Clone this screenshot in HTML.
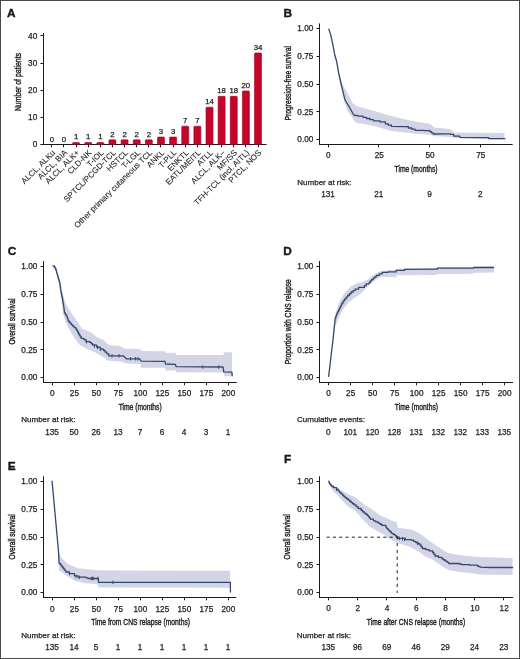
<!DOCTYPE html>
<html><head><meta charset="utf-8"><style>
html,body{margin:0;padding:0;background:#fff;}
svg{display:block;will-change:transform;}
text{font-family:"Liberation Sans",sans-serif;fill:#1e1e1e;stroke:#1e1e1e;stroke-width:0.25px;}
</style></head><body>
<svg width="520" height="659" viewBox="0 0 520 659">
<rect x="0" y="0" width="520" height="659" fill="#fff"/>
<text x="7.10" y="16.60" font-size="11.8" text-anchor="start" font-weight="bold" fill="#000" style="stroke:#000;stroke-width:0.35px">A</text>
<line x1="43.50" y1="33.00" x2="43.50" y2="145.00" stroke="#1a1a1a" stroke-width="1.0"/>
<line x1="40.40" y1="144.50" x2="43.50" y2="144.50" stroke="#1a1a1a" stroke-width="1.0"/>
<text x="37.20" y="147.44" font-size="8.2" text-anchor="end">0</text>
<line x1="40.40" y1="117.50" x2="43.50" y2="117.50" stroke="#1a1a1a" stroke-width="1.0"/>
<text x="37.20" y="120.29" font-size="8.2" text-anchor="end">10</text>
<line x1="40.40" y1="90.50" x2="43.50" y2="90.50" stroke="#1a1a1a" stroke-width="1.0"/>
<text x="37.20" y="93.14" font-size="8.2" text-anchor="end">20</text>
<line x1="40.40" y1="63.50" x2="43.50" y2="63.50" stroke="#1a1a1a" stroke-width="1.0"/>
<text x="37.20" y="65.99" font-size="8.2" text-anchor="end">30</text>
<line x1="40.40" y1="35.50" x2="43.50" y2="35.50" stroke="#1a1a1a" stroke-width="1.0"/>
<text x="37.20" y="38.84" font-size="8.2" text-anchor="end">40</text>
<line x1="43.00" y1="144.50" x2="266.50" y2="144.50" stroke="#1a1a1a" stroke-width="1.0"/>
<line x1="51.50" y1="144.50" x2="51.50" y2="147.30" stroke="#1a1a1a" stroke-width="1.0"/>
<text x="51.80" y="142.10" font-size="7.8" text-anchor="middle">0</text>
<text x="55.70" y="153.20" font-size="8.1" text-anchor="end" transform="rotate(-45 55.70 153.20)" style="stroke-width:0.1px">ALCL, ALKu</text>
<line x1="63.50" y1="144.50" x2="63.50" y2="147.30" stroke="#1a1a1a" stroke-width="1.0"/>
<text x="63.93" y="142.10" font-size="7.8" text-anchor="middle">0</text>
<text x="67.83" y="153.20" font-size="8.1" text-anchor="end" transform="rotate(-45 67.83 153.20)" style="stroke-width:0.1px">ALCL, BIA</text>
<rect x="72.56" y="142.48" width="7.00" height="2.01" rx="0.8" fill="#c5062c" stroke="#a0001f" stroke-width="0.6"/>
<line x1="76.50" y1="144.50" x2="76.50" y2="147.30" stroke="#1a1a1a" stroke-width="1.0"/>
<text x="76.06" y="139.38" font-size="7.8" text-anchor="middle">1</text>
<text x="79.96" y="153.20" font-size="8.1" text-anchor="end" transform="rotate(-45 79.96 153.20)" style="stroke-width:0.1px">ALCL, ALK+</text>
<rect x="84.69" y="142.48" width="7.00" height="2.01" rx="0.8" fill="#c5062c" stroke="#a0001f" stroke-width="0.6"/>
<line x1="88.50" y1="144.50" x2="88.50" y2="147.30" stroke="#1a1a1a" stroke-width="1.0"/>
<text x="88.19" y="139.38" font-size="7.8" text-anchor="middle">1</text>
<text x="92.09" y="153.20" font-size="8.1" text-anchor="end" transform="rotate(-45 92.09 153.20)" style="stroke-width:0.1px">CLD-NK</text>
<rect x="96.82" y="142.48" width="7.00" height="2.01" rx="0.8" fill="#c5062c" stroke="#a0001f" stroke-width="0.6"/>
<line x1="100.50" y1="144.50" x2="100.50" y2="147.30" stroke="#1a1a1a" stroke-width="1.0"/>
<text x="100.32" y="139.38" font-size="7.8" text-anchor="middle">1</text>
<text x="104.22" y="153.20" font-size="8.1" text-anchor="end" transform="rotate(-45 104.22 153.20)" style="stroke-width:0.1px">T-IOL</text>
<rect x="108.95" y="139.77" width="7.00" height="4.73" rx="0.8" fill="#c5062c" stroke="#a0001f" stroke-width="0.6"/>
<line x1="112.50" y1="144.50" x2="112.50" y2="147.30" stroke="#1a1a1a" stroke-width="1.0"/>
<text x="112.45" y="136.67" font-size="7.8" text-anchor="middle">2</text>
<text x="116.35" y="153.20" font-size="8.1" text-anchor="end" transform="rotate(-45 116.35 153.20)" style="stroke-width:0.1px">SPTCL/PCGD-TCL</text>
<rect x="121.08" y="139.77" width="7.00" height="4.73" rx="0.8" fill="#c5062c" stroke="#a0001f" stroke-width="0.6"/>
<line x1="124.50" y1="144.50" x2="124.50" y2="147.30" stroke="#1a1a1a" stroke-width="1.0"/>
<text x="124.58" y="136.67" font-size="7.8" text-anchor="middle">2</text>
<text x="128.48" y="153.20" font-size="8.1" text-anchor="end" transform="rotate(-45 128.48 153.20)" style="stroke-width:0.1px">HSTCL</text>
<rect x="133.21" y="139.77" width="7.00" height="4.73" rx="0.8" fill="#c5062c" stroke="#a0001f" stroke-width="0.6"/>
<line x1="136.50" y1="144.50" x2="136.50" y2="147.30" stroke="#1a1a1a" stroke-width="1.0"/>
<text x="136.71" y="136.67" font-size="7.8" text-anchor="middle">2</text>
<text x="140.61" y="153.20" font-size="8.1" text-anchor="end" transform="rotate(-45 140.61 153.20)" style="stroke-width:0.1px">T-LGL</text>
<rect x="145.34" y="139.77" width="7.00" height="4.73" rx="0.8" fill="#c5062c" stroke="#a0001f" stroke-width="0.6"/>
<line x1="148.50" y1="144.50" x2="148.50" y2="147.30" stroke="#1a1a1a" stroke-width="1.0"/>
<text x="148.84" y="136.67" font-size="7.8" text-anchor="middle">2</text>
<text x="152.74" y="153.20" font-size="8.1" text-anchor="end" transform="rotate(-45 152.74 153.20)" style="stroke-width:0.1px">Other primary cutaneous TCL</text>
<rect x="157.47" y="137.05" width="7.00" height="7.44" rx="0.8" fill="#c5062c" stroke="#a0001f" stroke-width="0.6"/>
<line x1="160.50" y1="144.50" x2="160.50" y2="147.30" stroke="#1a1a1a" stroke-width="1.0"/>
<text x="160.97" y="133.95" font-size="7.8" text-anchor="middle">3</text>
<text x="164.87" y="153.20" font-size="8.1" text-anchor="end" transform="rotate(-45 164.87 153.20)" style="stroke-width:0.1px">ANKL</text>
<rect x="169.60" y="137.05" width="7.00" height="7.44" rx="0.8" fill="#c5062c" stroke="#a0001f" stroke-width="0.6"/>
<line x1="173.50" y1="144.50" x2="173.50" y2="147.30" stroke="#1a1a1a" stroke-width="1.0"/>
<text x="173.10" y="133.95" font-size="7.8" text-anchor="middle">3</text>
<text x="177.00" y="153.20" font-size="8.1" text-anchor="end" transform="rotate(-45 177.00 153.20)" style="stroke-width:0.1px">T-PLL</text>
<rect x="181.73" y="126.20" width="7.00" height="18.30" rx="0.8" fill="#c5062c" stroke="#a0001f" stroke-width="0.6"/>
<line x1="185.50" y1="144.50" x2="185.50" y2="147.30" stroke="#1a1a1a" stroke-width="1.0"/>
<text x="185.23" y="123.09" font-size="7.8" text-anchor="middle">7</text>
<text x="189.13" y="153.20" font-size="8.1" text-anchor="end" transform="rotate(-45 189.13 153.20)" style="stroke-width:0.1px">ENKTL</text>
<rect x="193.86" y="126.20" width="7.00" height="18.30" rx="0.8" fill="#c5062c" stroke="#a0001f" stroke-width="0.6"/>
<line x1="197.50" y1="144.50" x2="197.50" y2="147.30" stroke="#1a1a1a" stroke-width="1.0"/>
<text x="197.36" y="123.09" font-size="7.8" text-anchor="middle">7</text>
<text x="201.26" y="153.20" font-size="8.1" text-anchor="end" transform="rotate(-45 201.26 153.20)" style="stroke-width:0.1px">EATL/MEITL</text>
<rect x="205.99" y="107.19" width="7.00" height="37.31" rx="0.8" fill="#c5062c" stroke="#a0001f" stroke-width="0.6"/>
<line x1="209.50" y1="144.50" x2="209.50" y2="147.30" stroke="#1a1a1a" stroke-width="1.0"/>
<text x="209.49" y="104.09" font-size="7.8" text-anchor="middle">14</text>
<text x="213.39" y="153.20" font-size="8.1" text-anchor="end" transform="rotate(-45 213.39 153.20)" style="stroke-width:0.1px">ATLL</text>
<rect x="218.12" y="96.33" width="7.00" height="48.17" rx="0.8" fill="#c5062c" stroke="#a0001f" stroke-width="0.6"/>
<line x1="221.50" y1="144.50" x2="221.50" y2="147.30" stroke="#1a1a1a" stroke-width="1.0"/>
<text x="221.62" y="93.23" font-size="7.8" text-anchor="middle">18</text>
<text x="225.52" y="153.20" font-size="8.1" text-anchor="end" transform="rotate(-45 225.52 153.20)" style="stroke-width:0.1px">ALCL, ALK–</text>
<rect x="230.25" y="96.33" width="7.00" height="48.17" rx="0.8" fill="#c5062c" stroke="#a0001f" stroke-width="0.6"/>
<line x1="233.50" y1="144.50" x2="233.50" y2="147.30" stroke="#1a1a1a" stroke-width="1.0"/>
<text x="233.75" y="93.23" font-size="7.8" text-anchor="middle">18</text>
<text x="237.65" y="153.20" font-size="8.1" text-anchor="end" transform="rotate(-45 237.65 153.20)" style="stroke-width:0.1px">MF/SS</text>
<rect x="242.38" y="90.90" width="7.00" height="53.60" rx="0.8" fill="#c5062c" stroke="#a0001f" stroke-width="0.6"/>
<line x1="245.50" y1="144.50" x2="245.50" y2="147.30" stroke="#1a1a1a" stroke-width="1.0"/>
<text x="245.88" y="87.80" font-size="7.8" text-anchor="middle">20</text>
<text x="249.78" y="153.20" font-size="8.1" text-anchor="end" transform="rotate(-45 249.78 153.20)" style="stroke-width:0.1px">TFH-TCL (incl. AITL)</text>
<rect x="254.51" y="52.89" width="7.00" height="91.61" rx="0.8" fill="#c5062c" stroke="#a0001f" stroke-width="0.6"/>
<line x1="258.50" y1="144.50" x2="258.50" y2="147.30" stroke="#1a1a1a" stroke-width="1.0"/>
<text x="258.01" y="49.79" font-size="7.8" text-anchor="middle">34</text>
<text x="261.91" y="153.20" font-size="8.1" text-anchor="end" transform="rotate(-45 261.91 153.20)" style="stroke-width:0.1px">PTCL, NOS</text>
<text x="21.10" y="82.05" font-size="9.8" text-anchor="middle" textLength="58.1" lengthAdjust="spacingAndGlyphs" transform="rotate(-90 21.10 82.05)" style="stroke-width:0.42px">Number of patients</text>
<text x="283.50" y="17.10" font-size="11.8" text-anchor="start" font-weight="bold" fill="#000" style="stroke:#000;stroke-width:0.35px">B</text>
<line x1="319.50" y1="23.40" x2="319.50" y2="145.00" stroke="#1a1a1a" stroke-width="1.0"/>
<line x1="316.50" y1="139.50" x2="319.50" y2="139.50" stroke="#1a1a1a" stroke-width="1.0"/>
<text x="313.30" y="142.44" font-size="8.2" text-anchor="end">0.00</text>
<line x1="316.50" y1="111.50" x2="319.50" y2="111.50" stroke="#1a1a1a" stroke-width="1.0"/>
<text x="313.30" y="114.69" font-size="8.2" text-anchor="end">0.25</text>
<line x1="316.50" y1="84.50" x2="319.50" y2="84.50" stroke="#1a1a1a" stroke-width="1.0"/>
<text x="313.30" y="86.94" font-size="8.2" text-anchor="end">0.50</text>
<line x1="316.50" y1="56.50" x2="319.50" y2="56.50" stroke="#1a1a1a" stroke-width="1.0"/>
<text x="313.30" y="59.19" font-size="8.2" text-anchor="end">0.75</text>
<line x1="316.50" y1="28.50" x2="319.50" y2="28.50" stroke="#1a1a1a" stroke-width="1.0"/>
<text x="313.30" y="31.44" font-size="8.2" text-anchor="end">1.00</text>
<line x1="319.00" y1="144.50" x2="512.70" y2="144.50" stroke="#1a1a1a" stroke-width="1.0"/>
<line x1="328.50" y1="144.50" x2="328.50" y2="147.30" stroke="#1a1a1a" stroke-width="1.0"/>
<text x="328.40" y="158.44" font-size="8.2" text-anchor="middle">0</text>
<line x1="378.50" y1="144.50" x2="378.50" y2="147.30" stroke="#1a1a1a" stroke-width="1.0"/>
<text x="379.20" y="158.44" font-size="8.2" text-anchor="middle">25</text>
<line x1="429.50" y1="144.50" x2="429.50" y2="147.30" stroke="#1a1a1a" stroke-width="1.0"/>
<text x="430.00" y="158.44" font-size="8.2" text-anchor="middle">50</text>
<line x1="480.50" y1="144.50" x2="480.50" y2="147.30" stroke="#1a1a1a" stroke-width="1.0"/>
<text x="480.80" y="158.44" font-size="8.2" text-anchor="middle">75</text>
<text x="416.10" y="171.70" font-size="9.8" text-anchor="middle" textLength="43" lengthAdjust="spacingAndGlyphs" style="stroke-width:0.42px">Time (months)</text>
<text x="291.00" y="83.30" font-size="9.8" text-anchor="middle" textLength="74.4" lengthAdjust="spacingAndGlyphs" transform="rotate(-90 291.00 83.30)" style="stroke-width:0.42px">Progression-free survival</text>
<text x="297.30" y="184.94" font-size="8.0" text-anchor="start">Number at risk:</text>
<text x="328.00" y="196.74" font-size="8.2" text-anchor="middle">131</text>
<text x="378.80" y="196.74" font-size="8.2" text-anchor="middle">21</text>
<text x="429.60" y="196.74" font-size="8.2" text-anchor="middle">9</text>
<text x="480.40" y="196.74" font-size="8.2" text-anchor="middle">2</text>
<text x="7.70" y="254.90" font-size="11.8" text-anchor="start" font-weight="bold" fill="#000" style="stroke:#000;stroke-width:0.35px">C</text>
<line x1="43.50" y1="261.00" x2="43.50" y2="383.00" stroke="#1a1a1a" stroke-width="1.0"/>
<line x1="40.50" y1="377.50" x2="43.50" y2="377.50" stroke="#1a1a1a" stroke-width="1.0"/>
<text x="37.30" y="380.44" font-size="8.2" text-anchor="end">0.00</text>
<line x1="40.50" y1="349.50" x2="43.50" y2="349.50" stroke="#1a1a1a" stroke-width="1.0"/>
<text x="37.30" y="352.69" font-size="8.2" text-anchor="end">0.25</text>
<line x1="40.50" y1="322.50" x2="43.50" y2="322.50" stroke="#1a1a1a" stroke-width="1.0"/>
<text x="37.30" y="324.94" font-size="8.2" text-anchor="end">0.50</text>
<line x1="40.50" y1="294.50" x2="43.50" y2="294.50" stroke="#1a1a1a" stroke-width="1.0"/>
<text x="37.30" y="297.19" font-size="8.2" text-anchor="end">0.75</text>
<line x1="40.50" y1="266.50" x2="43.50" y2="266.50" stroke="#1a1a1a" stroke-width="1.0"/>
<text x="37.30" y="269.44" font-size="8.2" text-anchor="end">1.00</text>
<line x1="43.00" y1="382.50" x2="236.75" y2="382.50" stroke="#1a1a1a" stroke-width="1.0"/>
<line x1="52.50" y1="382.50" x2="52.50" y2="385.30" stroke="#1a1a1a" stroke-width="1.0"/>
<text x="52.40" y="396.19" font-size="8.2" text-anchor="middle">0</text>
<line x1="74.50" y1="382.50" x2="74.50" y2="385.30" stroke="#1a1a1a" stroke-width="1.0"/>
<text x="74.40" y="396.19" font-size="8.2" text-anchor="middle">25</text>
<line x1="96.50" y1="382.50" x2="96.50" y2="385.30" stroke="#1a1a1a" stroke-width="1.0"/>
<text x="96.40" y="396.19" font-size="8.2" text-anchor="middle">50</text>
<line x1="118.50" y1="382.50" x2="118.50" y2="385.30" stroke="#1a1a1a" stroke-width="1.0"/>
<text x="118.40" y="396.19" font-size="8.2" text-anchor="middle">75</text>
<line x1="140.50" y1="382.50" x2="140.50" y2="385.30" stroke="#1a1a1a" stroke-width="1.0"/>
<text x="140.40" y="396.19" font-size="8.2" text-anchor="middle">100</text>
<line x1="162.50" y1="382.50" x2="162.50" y2="385.30" stroke="#1a1a1a" stroke-width="1.0"/>
<text x="162.40" y="396.19" font-size="8.2" text-anchor="middle">125</text>
<line x1="184.50" y1="382.50" x2="184.50" y2="385.30" stroke="#1a1a1a" stroke-width="1.0"/>
<text x="184.40" y="396.19" font-size="8.2" text-anchor="middle">150</text>
<line x1="206.50" y1="382.50" x2="206.50" y2="385.30" stroke="#1a1a1a" stroke-width="1.0"/>
<text x="206.40" y="396.19" font-size="8.2" text-anchor="middle">175</text>
<line x1="228.50" y1="382.50" x2="228.50" y2="385.30" stroke="#1a1a1a" stroke-width="1.0"/>
<text x="228.40" y="396.19" font-size="8.2" text-anchor="middle">200</text>
<text x="140.20" y="409.60" font-size="9.8" text-anchor="middle" textLength="43" lengthAdjust="spacingAndGlyphs" style="stroke-width:0.42px">Time (months)</text>
<text x="14.80" y="321.50" font-size="9.8" text-anchor="middle" textLength="45.9" lengthAdjust="spacingAndGlyphs" transform="rotate(-90 14.80 321.50)" style="stroke-width:0.42px">Overall survival</text>
<text x="21.25" y="422.19" font-size="8.0" text-anchor="start">Number at risk:</text>
<text x="52.00" y="434.69" font-size="8.2" text-anchor="middle">135</text>
<text x="74.00" y="434.69" font-size="8.2" text-anchor="middle">50</text>
<text x="96.00" y="434.69" font-size="8.2" text-anchor="middle">26</text>
<text x="118.00" y="434.69" font-size="8.2" text-anchor="middle">13</text>
<text x="140.00" y="434.69" font-size="8.2" text-anchor="middle">7</text>
<text x="162.00" y="434.69" font-size="8.2" text-anchor="middle">6</text>
<text x="184.00" y="434.69" font-size="8.2" text-anchor="middle">4</text>
<text x="206.00" y="434.69" font-size="8.2" text-anchor="middle">3</text>
<text x="228.00" y="434.69" font-size="8.2" text-anchor="middle">1</text>
<text x="283.30" y="254.80" font-size="11.8" text-anchor="start" font-weight="bold" fill="#000" style="stroke:#000;stroke-width:0.35px">D</text>
<line x1="319.50" y1="261.00" x2="319.50" y2="383.00" stroke="#1a1a1a" stroke-width="1.0"/>
<line x1="316.50" y1="377.50" x2="319.50" y2="377.50" stroke="#1a1a1a" stroke-width="1.0"/>
<text x="313.30" y="380.44" font-size="8.2" text-anchor="end">0.00</text>
<line x1="316.50" y1="349.50" x2="319.50" y2="349.50" stroke="#1a1a1a" stroke-width="1.0"/>
<text x="313.30" y="352.69" font-size="8.2" text-anchor="end">0.25</text>
<line x1="316.50" y1="322.50" x2="319.50" y2="322.50" stroke="#1a1a1a" stroke-width="1.0"/>
<text x="313.30" y="324.94" font-size="8.2" text-anchor="end">0.50</text>
<line x1="316.50" y1="294.50" x2="319.50" y2="294.50" stroke="#1a1a1a" stroke-width="1.0"/>
<text x="313.30" y="297.19" font-size="8.2" text-anchor="end">0.75</text>
<line x1="316.50" y1="266.50" x2="319.50" y2="266.50" stroke="#1a1a1a" stroke-width="1.0"/>
<text x="313.30" y="269.44" font-size="8.2" text-anchor="end">1.00</text>
<line x1="319.00" y1="382.50" x2="513.00" y2="382.50" stroke="#1a1a1a" stroke-width="1.0"/>
<line x1="328.50" y1="382.50" x2="328.50" y2="385.30" stroke="#1a1a1a" stroke-width="1.0"/>
<text x="328.65" y="396.19" font-size="8.2" text-anchor="middle">0</text>
<line x1="350.50" y1="382.50" x2="350.50" y2="385.30" stroke="#1a1a1a" stroke-width="1.0"/>
<text x="350.65" y="396.19" font-size="8.2" text-anchor="middle">25</text>
<line x1="372.50" y1="382.50" x2="372.50" y2="385.30" stroke="#1a1a1a" stroke-width="1.0"/>
<text x="372.65" y="396.19" font-size="8.2" text-anchor="middle">50</text>
<line x1="394.50" y1="382.50" x2="394.50" y2="385.30" stroke="#1a1a1a" stroke-width="1.0"/>
<text x="394.65" y="396.19" font-size="8.2" text-anchor="middle">75</text>
<line x1="416.50" y1="382.50" x2="416.50" y2="385.30" stroke="#1a1a1a" stroke-width="1.0"/>
<text x="416.65" y="396.19" font-size="8.2" text-anchor="middle">100</text>
<line x1="438.50" y1="382.50" x2="438.50" y2="385.30" stroke="#1a1a1a" stroke-width="1.0"/>
<text x="438.65" y="396.19" font-size="8.2" text-anchor="middle">125</text>
<line x1="460.50" y1="382.50" x2="460.50" y2="385.30" stroke="#1a1a1a" stroke-width="1.0"/>
<text x="460.65" y="396.19" font-size="8.2" text-anchor="middle">150</text>
<line x1="482.50" y1="382.50" x2="482.50" y2="385.30" stroke="#1a1a1a" stroke-width="1.0"/>
<text x="482.65" y="396.19" font-size="8.2" text-anchor="middle">175</text>
<line x1="504.50" y1="382.50" x2="504.50" y2="385.30" stroke="#1a1a1a" stroke-width="1.0"/>
<text x="504.65" y="396.19" font-size="8.2" text-anchor="middle">200</text>
<text x="416.40" y="409.80" font-size="9.8" text-anchor="middle" textLength="43.3" lengthAdjust="spacingAndGlyphs" style="stroke-width:0.42px">Time (months)</text>
<text x="290.60" y="321.70" font-size="9.8" text-anchor="middle" textLength="85.1" lengthAdjust="spacingAndGlyphs" transform="rotate(-90 290.60 321.70)" style="stroke-width:0.42px">Proportion with CNS relapse</text>
<text x="297.00" y="422.44" font-size="8.0" text-anchor="start">Cumulative events:</text>
<text x="328.25" y="434.69" font-size="8.2" text-anchor="middle">0</text>
<text x="350.25" y="434.69" font-size="8.2" text-anchor="middle">101</text>
<text x="372.25" y="434.69" font-size="8.2" text-anchor="middle">120</text>
<text x="394.25" y="434.69" font-size="8.2" text-anchor="middle">128</text>
<text x="416.25" y="434.69" font-size="8.2" text-anchor="middle">131</text>
<text x="438.25" y="434.69" font-size="8.2" text-anchor="middle">132</text>
<text x="460.25" y="434.69" font-size="8.2" text-anchor="middle">132</text>
<text x="482.25" y="434.69" font-size="8.2" text-anchor="middle">133</text>
<text x="504.25" y="434.69" font-size="8.2" text-anchor="middle">135</text>
<text x="7.70" y="470.30" font-size="11.8" text-anchor="start" font-weight="bold" fill="#000" style="stroke:#000;stroke-width:0.35px">E</text>
<line x1="43.50" y1="476.25" x2="43.50" y2="598.00" stroke="#1a1a1a" stroke-width="1.0"/>
<line x1="40.50" y1="592.50" x2="43.50" y2="592.50" stroke="#1a1a1a" stroke-width="1.0"/>
<text x="37.30" y="595.44" font-size="8.2" text-anchor="end">0.00</text>
<line x1="40.50" y1="564.50" x2="43.50" y2="564.50" stroke="#1a1a1a" stroke-width="1.0"/>
<text x="37.30" y="567.69" font-size="8.2" text-anchor="end">0.25</text>
<line x1="40.50" y1="537.50" x2="43.50" y2="537.50" stroke="#1a1a1a" stroke-width="1.0"/>
<text x="37.30" y="539.94" font-size="8.2" text-anchor="end">0.50</text>
<line x1="40.50" y1="509.50" x2="43.50" y2="509.50" stroke="#1a1a1a" stroke-width="1.0"/>
<text x="37.30" y="512.19" font-size="8.2" text-anchor="end">0.75</text>
<line x1="40.50" y1="481.50" x2="43.50" y2="481.50" stroke="#1a1a1a" stroke-width="1.0"/>
<text x="37.30" y="484.44" font-size="8.2" text-anchor="end">1.00</text>
<line x1="43.00" y1="597.50" x2="236.30" y2="597.50" stroke="#1a1a1a" stroke-width="1.0"/>
<line x1="52.50" y1="597.50" x2="52.50" y2="600.30" stroke="#1a1a1a" stroke-width="1.0"/>
<text x="52.40" y="611.69" font-size="8.2" text-anchor="middle">0</text>
<line x1="74.50" y1="597.50" x2="74.50" y2="600.30" stroke="#1a1a1a" stroke-width="1.0"/>
<text x="74.40" y="611.69" font-size="8.2" text-anchor="middle">25</text>
<line x1="96.50" y1="597.50" x2="96.50" y2="600.30" stroke="#1a1a1a" stroke-width="1.0"/>
<text x="96.40" y="611.69" font-size="8.2" text-anchor="middle">50</text>
<line x1="118.50" y1="597.50" x2="118.50" y2="600.30" stroke="#1a1a1a" stroke-width="1.0"/>
<text x="118.40" y="611.69" font-size="8.2" text-anchor="middle">75</text>
<line x1="140.50" y1="597.50" x2="140.50" y2="600.30" stroke="#1a1a1a" stroke-width="1.0"/>
<text x="140.40" y="611.69" font-size="8.2" text-anchor="middle">100</text>
<line x1="162.50" y1="597.50" x2="162.50" y2="600.30" stroke="#1a1a1a" stroke-width="1.0"/>
<text x="162.40" y="611.69" font-size="8.2" text-anchor="middle">125</text>
<line x1="184.50" y1="597.50" x2="184.50" y2="600.30" stroke="#1a1a1a" stroke-width="1.0"/>
<text x="184.40" y="611.69" font-size="8.2" text-anchor="middle">150</text>
<line x1="206.50" y1="597.50" x2="206.50" y2="600.30" stroke="#1a1a1a" stroke-width="1.0"/>
<text x="206.40" y="611.69" font-size="8.2" text-anchor="middle">175</text>
<line x1="228.50" y1="597.50" x2="228.50" y2="600.30" stroke="#1a1a1a" stroke-width="1.0"/>
<text x="228.40" y="611.69" font-size="8.2" text-anchor="middle">200</text>
<text x="140.70" y="624.90" font-size="9.8" text-anchor="middle" textLength="98.8" lengthAdjust="spacingAndGlyphs" style="stroke-width:0.42px">Time from CNS relapse (months)</text>
<text x="14.80" y="536.90" font-size="9.8" text-anchor="middle" textLength="45.0" lengthAdjust="spacingAndGlyphs" transform="rotate(-90 14.80 536.90)" style="stroke-width:0.42px">Overall survival</text>
<text x="21.25" y="637.94" font-size="8.0" text-anchor="start">Number at risk:</text>
<text x="52.00" y="650.34" font-size="8.2" text-anchor="middle">135</text>
<text x="74.00" y="650.34" font-size="8.2" text-anchor="middle">14</text>
<text x="96.00" y="650.34" font-size="8.2" text-anchor="middle">5</text>
<text x="118.00" y="650.34" font-size="8.2" text-anchor="middle">1</text>
<text x="140.00" y="650.34" font-size="8.2" text-anchor="middle">1</text>
<text x="162.00" y="650.34" font-size="8.2" text-anchor="middle">1</text>
<text x="184.00" y="650.34" font-size="8.2" text-anchor="middle">1</text>
<text x="206.00" y="650.34" font-size="8.2" text-anchor="middle">1</text>
<text x="228.00" y="650.34" font-size="8.2" text-anchor="middle">1</text>
<text x="283.90" y="462.90" font-size="11.8" text-anchor="start" font-weight="bold" fill="#000" style="stroke:#000;stroke-width:0.35px">F</text>
<line x1="319.50" y1="476.25" x2="319.50" y2="598.00" stroke="#1a1a1a" stroke-width="1.0"/>
<line x1="316.50" y1="592.50" x2="319.50" y2="592.50" stroke="#1a1a1a" stroke-width="1.0"/>
<text x="313.30" y="595.44" font-size="8.2" text-anchor="end">0.00</text>
<line x1="316.50" y1="564.50" x2="319.50" y2="564.50" stroke="#1a1a1a" stroke-width="1.0"/>
<text x="313.30" y="567.69" font-size="8.2" text-anchor="end">0.25</text>
<line x1="316.50" y1="537.50" x2="319.50" y2="537.50" stroke="#1a1a1a" stroke-width="1.0"/>
<text x="313.30" y="539.94" font-size="8.2" text-anchor="end">0.50</text>
<line x1="316.50" y1="509.50" x2="319.50" y2="509.50" stroke="#1a1a1a" stroke-width="1.0"/>
<text x="313.30" y="512.19" font-size="8.2" text-anchor="end">0.75</text>
<line x1="316.50" y1="481.50" x2="319.50" y2="481.50" stroke="#1a1a1a" stroke-width="1.0"/>
<text x="313.30" y="484.44" font-size="8.2" text-anchor="end">1.00</text>
<line x1="319.00" y1="597.50" x2="513.00" y2="597.50" stroke="#1a1a1a" stroke-width="1.0"/>
<line x1="328.50" y1="597.50" x2="328.50" y2="600.30" stroke="#1a1a1a" stroke-width="1.0"/>
<text x="328.65" y="611.44" font-size="8.2" text-anchor="middle">0</text>
<line x1="357.50" y1="597.50" x2="357.50" y2="600.30" stroke="#1a1a1a" stroke-width="1.0"/>
<text x="357.90" y="611.44" font-size="8.2" text-anchor="middle">2</text>
<line x1="386.50" y1="597.50" x2="386.50" y2="600.30" stroke="#1a1a1a" stroke-width="1.0"/>
<text x="387.15" y="611.44" font-size="8.2" text-anchor="middle">4</text>
<line x1="416.50" y1="597.50" x2="416.50" y2="600.30" stroke="#1a1a1a" stroke-width="1.0"/>
<text x="416.40" y="611.44" font-size="8.2" text-anchor="middle">6</text>
<line x1="445.50" y1="597.50" x2="445.50" y2="600.30" stroke="#1a1a1a" stroke-width="1.0"/>
<text x="445.65" y="611.44" font-size="8.2" text-anchor="middle">8</text>
<line x1="474.50" y1="597.50" x2="474.50" y2="600.30" stroke="#1a1a1a" stroke-width="1.0"/>
<text x="474.90" y="611.44" font-size="8.2" text-anchor="middle">10</text>
<line x1="503.50" y1="597.50" x2="503.50" y2="600.30" stroke="#1a1a1a" stroke-width="1.0"/>
<text x="504.15" y="611.44" font-size="8.2" text-anchor="middle">12</text>
<text x="416.00" y="624.90" font-size="9.8" text-anchor="middle" textLength="98.3" lengthAdjust="spacingAndGlyphs" style="stroke-width:0.42px">Time after CNS relapse (months)</text>
<text x="290.40" y="536.90" font-size="9.8" text-anchor="middle" textLength="45.0" lengthAdjust="spacingAndGlyphs" transform="rotate(-90 290.40 536.90)" style="stroke-width:0.42px">Overall survival</text>
<text x="296.75" y="637.94" font-size="8.0" text-anchor="start">Number at risk:</text>
<text x="328.25" y="649.94" font-size="8.2" text-anchor="middle">135</text>
<text x="357.50" y="649.94" font-size="8.2" text-anchor="middle">96</text>
<text x="386.75" y="649.94" font-size="8.2" text-anchor="middle">69</text>
<text x="416.00" y="649.94" font-size="8.2" text-anchor="middle">46</text>
<text x="445.25" y="649.94" font-size="8.2" text-anchor="middle">29</text>
<text x="474.50" y="649.94" font-size="8.2" text-anchor="middle">24</text>
<text x="503.75" y="649.94" font-size="8.2" text-anchor="middle">23</text>
<polygon points="328.70,28.40 331.10,35.00 333.10,44.00 335.10,54.50 337.10,61.00 339.20,72.50 342.40,84.00 345.80,89.60 349.70,97.40 352.70,103.30 357.60,106.50 372.70,110.40 392.00,116.20 411.00,120.80 430.40,124.00 434.00,127.50 450.00,129.00 454.40,132.40 504.50,133.00 504.50,139.50 460.00,138.40 449.60,137.00 434.00,136.00 430.40,134.80 411.00,133.30 392.00,131.00 372.70,125.80 355.60,122.50 352.70,118.10 347.70,111.20 344.80,103.30 343.80,99.00 341.40,87.50 338.30,73.00 336.30,61.50 334.40,55.00 332.50,44.60 330.50,35.50 328.70,28.80" fill="#d3d5e7" stroke="none"/>
<polyline points="328.70,28.60 330.80,35.30 332.80,44.40 334.70,54.70 336.60,61.20 338.60,72.80 341.80,87.00 345.00,99.90 346.00,101.50 349.20,106.90 353.80,115.00 359.60,116.20 363.05,116.20 363.05,117.35 366.50,117.35 366.50,118.50 370.00,118.50 370.00,119.65 373.50,119.65 373.50,120.80 380.00,120.80 380.00,121.90 385.40,121.90 385.40,123.90 388.40,123.90 388.40,125.15 391.40,125.15 391.40,126.40 404.20,126.60 408.30,126.60 408.30,128.00 411.65,128.00 411.65,129.15 415.00,129.15 415.00,130.30 424.40,130.30 424.40,130.70 429.80,130.70 429.80,131.60 431.50,131.60 431.50,132.80 433.20,132.80 433.20,134.00 445.00,133.90 450.40,133.90 450.40,134.30 453.70,134.30 453.70,136.20 459.80,136.20 459.80,137.30 488.10,137.60 488.70,137.60 488.70,138.60 504.90,138.60 504.90,138.90" fill="none" stroke="#33496b" stroke-width="1.3" stroke-linejoin="round"/>
<polygon points="52.40,265.50 54.80,267.00 56.60,270.30 58.80,277.50 60.60,283.00 62.00,291.00 64.00,298.50 66.00,304.00 68.50,308.50 73.80,316.50 77.90,322.60 81.90,328.60 91.30,332.50 96.70,337.00 103.50,340.00 106.10,342.50 108.80,345.30 120.00,346.00 125.20,348.80 140.50,349.00 141.00,351.00 165.00,351.20 165.50,352.70 175.50,352.70 176.00,355.00 223.75,355.00 223.75,352.30 232.00,352.30 232.00,376.25 224.40,376.25 223.75,372.50 176.00,372.30 175.50,370.60 165.50,370.60 165.00,367.70 141.00,367.70 140.50,363.90 126.90,363.50 120.00,361.50 107.50,360.60 104.80,357.90 95.40,352.50 87.30,349.10 79.20,344.40 72.50,335.00 65.80,322.90 63.30,314.50 62.50,308.00 61.50,301.00 60.20,293.00 59.20,284.50 57.70,279.00 55.70,271.30 54.20,268.00 52.40,266.00" fill="#d3d5e7" stroke="none"/>
<polyline points="52.40,265.80 54.50,265.80 54.50,267.40 55.30,267.40 55.30,269.00 56.10,269.00 56.10,270.60 56.52,270.60 56.52,272.08 56.94,272.08 56.94,273.56 57.36,273.56 57.36,275.04 57.78,275.04 57.78,276.52 58.20,276.52 58.20,278.00 58.60,278.00 58.60,279.32 59.00,279.32 59.00,280.65 59.40,280.65 59.40,281.98 59.80,281.98 59.80,283.30 59.98,283.30 59.98,284.70 60.17,284.70 60.17,286.10 60.35,286.10 60.35,287.50 60.53,287.50 60.53,288.90 60.72,288.90 60.72,290.30 60.90,290.30 60.90,291.70 61.22,291.70 61.22,293.20 61.54,293.20 61.54,294.70 61.86,294.70 61.86,296.20 62.18,296.20 62.18,297.70 62.50,297.70 62.50,299.20 62.74,299.20 62.74,300.70 62.98,300.70 62.98,302.20 63.22,302.20 63.22,303.70 63.46,303.70 63.46,305.20 63.70,305.20 63.70,306.70 63.88,306.70 63.88,308.23 64.05,308.23 64.05,309.75 64.23,309.75 64.23,311.27 64.40,311.27 64.40,312.80 65.30,312.80 65.30,314.37 66.20,314.37 66.20,315.93 67.10,315.93 67.10,317.50 67.57,317.50 67.57,318.83 68.03,318.83 68.03,320.17 68.50,320.17 68.50,321.50 69.83,321.50 69.83,323.07 71.17,323.07 71.17,324.63 72.50,324.63 72.50,326.20 74.20,326.20 74.20,327.55 75.90,327.55 75.90,328.90 76.73,328.90 76.73,330.42 77.55,330.42 77.55,331.95 78.38,331.95 78.38,333.48 79.20,333.48 79.20,335.00 80.20,335.00 80.20,336.70 81.20,336.70 81.20,338.40 83.90,338.40 83.90,339.70 86.00,339.70 86.00,341.70 90.00,341.70 90.00,342.40 91.35,342.40 91.35,343.75 92.70,343.75 92.70,345.10 96.70,345.10 96.70,347.10 100.10,347.10 100.10,349.10 103.50,349.10 103.50,350.50 105.15,350.50 105.15,352.15 106.80,352.15 106.80,353.80 108.80,353.80 108.80,355.90 120.00,355.80 123.50,356.00 126.30,358.80 139.60,358.80 141.30,361.20 165.00,361.40 165.60,364.00 175.40,364.30 176.00,366.70 223.10,367.00 223.75,371.90 231.90,372.10 232.25,376.25" fill="none" stroke="#33496b" stroke-width="1.3" stroke-linejoin="round"/>
<line x1="86.50" y1="340.10" x2="86.50" y2="343.50" stroke="#33496b" stroke-width="1.0"/>
<line x1="94.50" y1="344.30" x2="94.50" y2="347.70" stroke="#33496b" stroke-width="1.0"/>
<line x1="97.50" y1="345.80" x2="97.50" y2="349.20" stroke="#33496b" stroke-width="1.0"/>
<line x1="100.60" y1="347.50" x2="100.60" y2="350.90" stroke="#33496b" stroke-width="1.0"/>
<line x1="112.00" y1="354.10" x2="112.00" y2="357.50" stroke="#33496b" stroke-width="1.0"/>
<line x1="119.00" y1="354.10" x2="119.00" y2="357.50" stroke="#33496b" stroke-width="1.0"/>
<line x1="130.50" y1="357.10" x2="130.50" y2="360.50" stroke="#33496b" stroke-width="1.0"/>
<line x1="135.50" y1="357.10" x2="135.50" y2="360.50" stroke="#33496b" stroke-width="1.0"/>
<line x1="138.00" y1="357.10" x2="138.00" y2="360.50" stroke="#33496b" stroke-width="1.0"/>
<line x1="202.75" y1="365.30" x2="202.75" y2="368.70" stroke="#33496b" stroke-width="1.0"/>
<line x1="218.75" y1="365.30" x2="218.75" y2="368.70" stroke="#33496b" stroke-width="1.0"/>
<polygon points="328.60,376.50 330.00,364.00 331.40,352.00 332.80,339.00 333.80,327.00 334.50,318.00 335.50,313.50 339.50,301.50 344.20,293.20 351.10,286.30 356.80,283.30 362.60,282.00 368.40,279.20 374.20,274.30 379.90,271.20 388.00,270.20 396.00,269.80 396.50,268.80 404.60,268.60 435.40,268.30 437.40,267.30 472.00,267.20 474.00,266.70 494.00,266.30 494.00,272.60 474.00,272.80 472.00,273.70 437.40,274.00 435.40,275.00 396.50,275.20 396.20,277.30 388.00,277.30 382.20,276.50 376.50,279.50 370.70,284.00 364.90,289.60 360.30,294.30 354.50,297.70 348.80,302.30 343.00,309.50 338.40,318.50 337.20,322.00 334.80,327.50 333.40,339.20 331.80,352.40 330.40,364.60 328.60,377.20" fill="#d3d5e7" stroke="none"/>
<polyline points="328.60,376.80 330.10,364.40 331.50,352.20 333.10,338.90 334.30,326.70 335.20,318.20 335.70,318.20 335.70,316.70 336.20,316.70 336.20,315.20 336.70,315.20 336.70,314.00 337.20,314.00 337.20,312.80 337.97,312.80 337.97,311.27 338.73,311.27 338.73,309.73 339.50,309.73 339.50,308.20 340.27,308.20 340.27,306.63 341.03,306.63 341.03,305.07 341.80,305.07 341.80,303.50 342.77,303.50 342.77,301.97 343.73,301.97 343.73,300.43 344.70,300.43 344.70,298.90 346.15,298.90 346.15,297.20 347.60,297.20 347.60,295.50 349.35,295.50 349.35,293.75 351.10,293.75 351.10,292.00 353.10,292.00 353.10,290.55 355.10,290.55 355.10,289.10 358.60,289.10 358.60,287.40 362.60,287.40 364.35,287.40 364.35,285.65 366.10,285.65 366.10,283.90 368.40,283.90 368.40,283.30 369.53,283.30 369.53,281.97 370.67,281.97 370.67,280.63 371.80,280.63 371.80,279.30 373.37,279.30 373.37,277.97 374.93,277.97 374.93,276.63 376.50,276.63 376.50,275.30 379.35,275.30 379.35,273.85 382.20,273.85 382.20,272.40 388.00,272.40 388.00,271.90 396.20,271.90 396.20,270.40 404.60,270.40 404.60,269.40 435.40,269.10 437.40,269.10 437.40,268.10 471.80,268.10 473.80,268.10 473.80,267.50 493.50,267.50 493.50,267.10" fill="none" stroke="#33496b" stroke-width="1.3" stroke-linejoin="round"/>
<polygon points="57.80,546.00 59.50,553.00 60.80,557.00 67.70,564.00 78.10,568.30 97.10,570.20 125.00,570.60 230.00,570.80 230.00,587.70 125.00,587.50 98.90,587.50 97.10,584.10 85.00,583.20 74.60,580.60 66.00,575.40 59.00,570.20 58.60,560.00 57.80,547.00" fill="#d3d5e7" stroke="none"/>
<polyline points="52.00,480.80 55.50,518.60 58.40,550.00 59.10,563.30 60.40,563.30 60.40,564.90 61.70,564.90 61.70,566.50 62.78,566.50 62.78,567.88 63.85,567.88 63.85,569.25 64.92,569.25 64.92,570.62 66.00,570.62 66.00,572.00 69.40,572.00 69.40,573.70 74.50,573.70 74.50,575.80 78.10,575.80 78.10,577.20 86.00,577.20 86.00,577.80 88.00,577.80 88.00,578.50 98.10,578.50 98.70,582.30 230.40,582.30 230.40,592.40" fill="none" stroke="#33496b" stroke-width="1.3" stroke-linejoin="round"/>
<line x1="69.40" y1="572.00" x2="69.40" y2="575.40" stroke="#33496b" stroke-width="1.0"/>
<line x1="76.00" y1="574.90" x2="76.00" y2="578.30" stroke="#33496b" stroke-width="1.0"/>
<line x1="79.20" y1="575.70" x2="79.20" y2="579.10" stroke="#33496b" stroke-width="1.0"/>
<line x1="91.30" y1="576.80" x2="91.30" y2="580.20" stroke="#33496b" stroke-width="1.0"/>
<line x1="92.30" y1="576.80" x2="92.30" y2="580.20" stroke="#33496b" stroke-width="1.0"/>
<line x1="93.30" y1="576.80" x2="93.30" y2="580.20" stroke="#33496b" stroke-width="1.0"/>
<line x1="98.10" y1="576.80" x2="98.10" y2="580.20" stroke="#33496b" stroke-width="1.0"/>
<line x1="112.90" y1="580.60" x2="112.90" y2="584.00" stroke="#33496b" stroke-width="1.0"/>
<polygon points="328.40,480.60 332.70,485.20 340.40,489.50 348.10,494.20 355.00,496.90 359.60,500.80 365.80,505.40 370.40,508.50 375.00,511.50 380.40,515.40 385.80,517.70 391.90,520.80 396.80,522.30 397.50,527.80 403.10,528.50 411.20,529.50 418.10,532.50 424.00,536.50 431.50,542.50 440.80,548.50 447.70,553.10 454.60,554.20 466.20,556.00 480.00,557.10 512.50,558.00 512.50,575.00 480.00,574.40 471.90,573.30 460.40,572.10 450.00,570.40 443.10,566.90 431.50,558.80 425.00,556.50 418.10,551.20 408.80,546.50 399.60,543.70 392.70,540.80 382.30,533.80 371.90,528.00 368.80,525.50 364.20,521.00 359.60,515.50 354.20,510.30 348.10,506.50 341.90,500.30 338.10,495.70 332.70,491.10 328.40,481.80" fill="#d3d5e7" stroke="none"/>
<polyline points="328.40,481.10 329.00,481.10 329.00,482.65 329.60,482.65 329.60,484.20 330.75,484.20 330.75,485.35 331.90,485.35 331.90,486.50 333.50,486.50 333.50,487.60 336.50,487.60 336.50,489.20 338.05,489.20 338.05,490.90 339.60,490.90 339.60,492.60 341.15,492.60 341.15,493.95 342.70,493.95 342.70,495.30 343.85,495.30 343.85,496.45 345.00,496.45 345.00,497.60 346.55,497.60 346.55,498.75 348.10,498.75 348.10,499.90 349.65,499.90 349.65,501.25 351.20,501.25 351.20,502.60 352.70,502.60 352.70,503.75 354.20,503.75 354.20,504.90 356.15,504.90 356.15,506.70 358.10,506.70 358.10,508.50 361.20,508.50 361.20,510.40 362.70,510.40 362.70,511.75 364.20,511.75 364.20,513.10 365.75,513.10 365.75,514.25 367.30,514.25 367.30,515.40 368.33,515.40 368.33,516.67 369.37,516.67 369.37,517.93 370.40,517.93 370.40,519.20 373.50,519.20 373.50,520.80 375.80,520.80 375.80,521.95 378.10,521.95 378.10,523.10 380.00,523.10 380.00,524.25 381.90,524.25 381.90,525.40 385.80,525.40 385.80,526.90 386.55,526.90 386.55,528.05 387.30,528.05 387.30,529.20 388.70,529.20 388.70,530.57 390.10,530.57 390.10,531.93 391.50,531.93 391.50,533.30 393.25,533.30 393.25,534.45 395.00,534.45 395.00,535.60 396.45,535.60 396.45,536.95 397.90,536.95 397.90,538.30 400.80,538.30 405.40,538.30 405.40,539.60 411.20,539.60 411.20,540.20 413.50,540.20 413.50,541.35 415.80,541.35 415.80,542.50 417.90,542.50 417.90,543.75 420.00,543.75 420.00,545.00 421.15,545.00 421.15,546.75 422.30,546.75 422.30,548.50 425.75,548.50 425.75,549.65 429.20,549.65 429.20,550.80 432.70,550.80 432.70,552.50 433.85,552.50 433.85,554.25 435.00,554.25 435.00,556.00 438.45,556.00 438.45,557.40 441.90,557.40 441.90,558.80 443.65,558.80 443.65,560.00 445.40,560.00 445.40,561.20 447.10,561.20 447.10,562.35 448.80,562.35 448.80,563.50 459.20,563.50 459.20,564.00 461.50,564.00 461.50,564.60 469.60,564.60 469.60,565.20 477.70,565.20 477.70,566.30 480.00,566.30 480.00,567.20 490.00,567.50 512.50,567.50 512.50,568.20" fill="none" stroke="#33496b" stroke-width="1.3" stroke-linejoin="round"/>
<line x1="336.50" y1="487.50" x2="336.50" y2="490.90" stroke="#33496b" stroke-width="1.0"/>
<line x1="399.50" y1="536.60" x2="399.50" y2="540.00" stroke="#33496b" stroke-width="1.0"/>
<line x1="402.50" y1="537.20" x2="402.50" y2="540.60" stroke="#33496b" stroke-width="1.0"/>
<line x1="404.50" y1="537.70" x2="404.50" y2="541.10" stroke="#33496b" stroke-width="1.0"/>
<line x1="417.50" y1="541.80" x2="417.50" y2="545.20" stroke="#33496b" stroke-width="1.0"/>
<line x1="326.6" y1="537.2" x2="398" y2="537.2" stroke="#222" stroke-width="1" stroke-dasharray="3.1,3.2"/>
<line x1="397.2" y1="536.2" x2="397.2" y2="593" stroke="#222" stroke-width="1" stroke-dasharray="3.2,3.6"/>
<rect x="0.5" y="0.5" width="519" height="658" fill="none" stroke="#4a4a4a" stroke-width="1"/>
</svg>
</body></html>
